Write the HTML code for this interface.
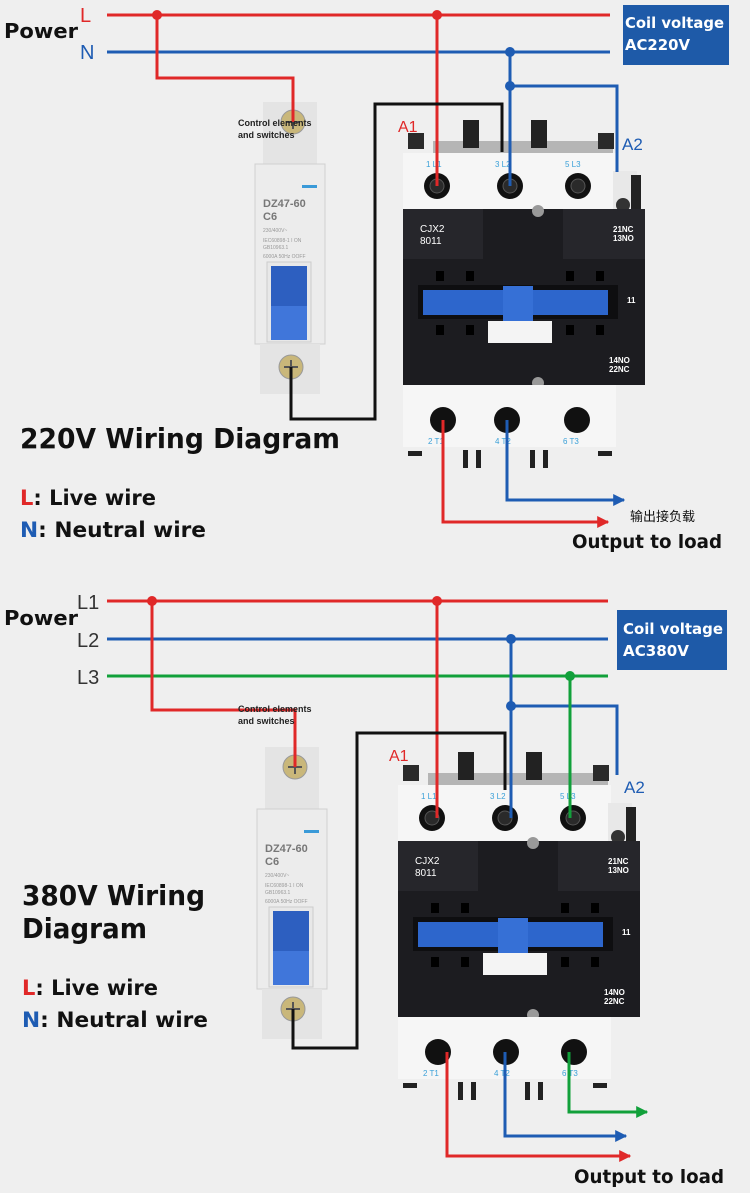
<!DOCTYPE html>
<html><head><meta charset="utf-8"><style>
html,body{margin:0;padding:0;background:#f0f0f0;}
svg{display:block}
text{font-family:"Liberation Sans","Noto Sans CJK SC",sans-serif}
.w{font-family:"DejaVu Sans","Liberation Sans",sans-serif}
</style></head><body>
<svg width="750" height="1201" viewBox="0 0 750 1201" xmlns="http://www.w3.org/2000/svg">
<defs>
<marker id="arR" viewBox="0 0 10 10" refX="9" refY="5" markerWidth="4" markerHeight="4" orient="auto"><path d="M0,0L10,5L0,10z" fill="#e02828"/></marker>
<marker id="arB" viewBox="0 0 10 10" refX="9" refY="5" markerWidth="4" markerHeight="4" orient="auto"><path d="M0,0L10,5L0,10z" fill="#1e5cb3"/></marker>
<marker id="arG" viewBox="0 0 10 10" refX="9" refY="5" markerWidth="4" markerHeight="4" orient="auto"><path d="M0,0L10,5L0,10z" fill="#11a03a"/></marker>
</defs>
<rect width="750" height="1193" fill="#efefef"/>
<rect y="1193" width="750" height="8" fill="#fff"/>

<!-- ===== TOP DIAGRAM ===== -->
<g transform="translate(255,102)">
<rect x="8" y="0" width="54" height="62" fill="#e4e4e4"/>
<circle cx="38" cy="20" r="12" fill="#c9b77a" stroke="#999"/><path d="M31,20h14M38,13v14" stroke="#555" stroke-width="2"/>
<rect x="0" y="62" width="70" height="180" fill="#ececec" stroke="#d0d0d0"/>
<rect x="47" y="83" width="15" height="3" fill="#3a9ad8"/>
<text x="8" y="105" font-size="11" font-weight="bold" fill="#777">DZ47-60</text>
<text x="8" y="118" font-size="11" font-weight="bold" fill="#777">C6</text>
<text x="8" y="130" font-size="5" fill="#999">230/400V~</text>
<text x="8" y="140" font-size="5" fill="#999">IEC60898-1 I ON</text>
<text x="8" y="147" font-size="5" fill="#999">GB10963.1</text>
<text x="8" y="156" font-size="5" fill="#999">6000A 50Hz OOFF</text>
<rect x="12" y="160" width="44" height="80" fill="#e8e8e8" stroke="#ccc"/>
<rect x="16" y="164" width="36" height="40" fill="#2d5fc0"/>
<rect x="16" y="204" width="36" height="34" fill="#4076da"/>
<rect x="5" y="242" width="60" height="50" fill="#e4e4e4"/>
<circle cx="36" cy="265" r="12" fill="#c9b77a" stroke="#999"/><path d="M29,265h14M36,258v14" stroke="#555" stroke-width="2"/>
</g>
<g transform="translate(403,153)">
<rect x="30" y="-12" width="180" height="12" fill="#b5b5b5"/>
<rect x="5" y="-20" width="16" height="16" fill="#2a2a2a"/>
<rect x="195" y="-20" width="16" height="16" fill="#2a2a2a"/>
<rect x="60" y="-33" width="16" height="28" fill="#222"/>
<rect x="128" y="-33" width="16" height="28" fill="#222"/>
<rect x="0" y="0" width="213" height="56" fill="#f6f6f6"/>
<rect x="210" y="18" width="24" height="52" fill="#e8e8e8"/>
<rect x="228" y="22" width="10" height="60" fill="#222"/>
<circle cx="220" cy="52" r="7" fill="#333"/>
<text x="23" y="14" font-size="8" fill="#3aa0d8">1  L1</text>
<text x="92" y="14" font-size="8" fill="#3aa0d8">3  L2</text>
<text x="162" y="14" font-size="8" fill="#3aa0d8">5  L3</text>
<circle cx="34" cy="33" r="13" fill="#111"/><circle cx="34" cy="33" r="7" fill="#2a2a2a" stroke="#555"/>
<circle cx="107" cy="33" r="13" fill="#111"/><circle cx="107" cy="33" r="7" fill="#2a2a2a" stroke="#555"/>
<circle cx="175" cy="33" r="13" fill="#111"/><circle cx="175" cy="33" r="7" fill="#2a2a2a" stroke="#555"/>
<rect x="0" y="56" width="242" height="176" fill="#1c1c20"/>
<rect x="0" y="56" width="80" height="50" fill="#26262b"/>
<rect x="160" y="56" width="82" height="50" fill="#26262b"/>
<circle cx="135" cy="58" r="6" fill="#999"/>
<text x="17" y="79" font-size="10" fill="#fff">CJX2</text>
<text x="17" y="91" font-size="10" fill="#fff">8011</text>
<text x="210" y="79" font-size="8" fill="#fff" font-weight="bold">21NC</text>
<text x="210" y="88" font-size="8" fill="#fff" font-weight="bold">13NO</text>
<rect x="33" y="118" width="8" height="10" fill="#000"/><rect x="63" y="118" width="8" height="10" fill="#000"/>
<rect x="163" y="118" width="8" height="10" fill="#000"/><rect x="193" y="118" width="8" height="10" fill="#000"/>
<rect x="15" y="132" width="200" height="34" fill="#0e0e10"/>
<rect x="20" y="137" width="185" height="25" fill="#2d66cc"/>
<rect x="100" y="133" width="30" height="35" fill="#3670d6"/>
<rect x="33" y="172" width="8" height="10" fill="#000"/><rect x="63" y="172" width="8" height="10" fill="#000"/>
<rect x="163" y="172" width="8" height="10" fill="#000"/><rect x="193" y="172" width="8" height="10" fill="#000"/>
<rect x="85" y="168" width="64" height="22" fill="#f4f4f4"/>
<text x="224" y="150" font-size="8" fill="#fff" font-weight="bold">11</text>
<text x="206" y="210" font-size="8" fill="#fff" font-weight="bold">14NO</text>
<text x="206" y="219" font-size="8" fill="#fff" font-weight="bold">22NC</text>
<circle cx="135" cy="230" r="6" fill="#999"/>
<rect x="0" y="232" width="213" height="62" fill="#f6f6f6"/>
<circle cx="40" cy="267" r="13" fill="#111"/><circle cx="104" cy="267" r="13" fill="#111"/><circle cx="174" cy="267" r="13" fill="#111"/>
<text x="25" y="291" font-size="8" fill="#3aa0d8">2   T1</text>
<text x="92" y="291" font-size="8" fill="#3aa0d8">4   T2</text>
<text x="160" y="291" font-size="8" fill="#3aa0d8">6   T3</text>
<rect x="5" y="298" width="14" height="5" fill="#222"/><rect x="195" y="298" width="14" height="5" fill="#222"/>
<rect x="60" y="297" width="5" height="18" fill="#222"/><rect x="73" y="297" width="5" height="18" fill="#222"/>
<rect x="127" y="297" width="5" height="18" fill="#222"/><rect x="140" y="297" width="5" height="18" fill="#222"/>
</g>

<g fill="none" stroke-width="3">
<path d="M107,15H610" stroke="#e02828"/>
<path d="M107,52H610" stroke="#1e5cb3"/>
<path d="M157,15V78H293V122" stroke="#e02828"/>
<path d="M437,15V186" stroke="#e02828"/>
<path d="M510,52V186" stroke="#1e5cb3"/>
<path d="M510,86H617V172" stroke="#1e5cb3"/>
<path d="M291,367V419H375V104H502V152" stroke="#111"/>
<path d="M443,420V522H608" stroke="#e02828" marker-end="url(#arR)"/>
<path d="M507,420V500H624" stroke="#1e5cb3" marker-end="url(#arB)"/>
</g>
<circle cx="157" cy="15" r="5" fill="#e02828"/><circle cx="437" cy="15" r="5" fill="#e02828"/>
<circle cx="510" cy="52" r="5" fill="#1e5cb3"/><circle cx="510" cy="86" r="5" fill="#1e5cb3"/>

<text class="w" x="4" y="38" font-size="20" font-weight="bold" fill="#111" textLength="74" lengthAdjust="spacingAndGlyphs">Power</text>
<text x="80" y="22" font-size="20" fill="#e02828">L</text>
<text x="80" y="59" font-size="20" fill="#1e5cb3">N</text>
<rect x="623" y="5" width="106" height="60" fill="#1e5aa8"/>
<text class="w" x="625" y="28" font-size="15" font-weight="bold" fill="#fff" textLength="99" lengthAdjust="spacingAndGlyphs">Coil voltage</text>
<text class="w" x="625" y="50" font-size="15" font-weight="bold" fill="#fff" textLength="65" lengthAdjust="spacingAndGlyphs">AC220V</text>
<text x="398" y="132" font-size="16" fill="#e02828">A1</text>
<text x="622" y="150" font-size="17" fill="#1e5cb3">A2</text>
<text x="238" y="126" font-size="9" font-weight="bold" fill="#222">Control elements</text>
<text x="238" y="138" font-size="9" font-weight="bold" fill="#222">and switches</text>
<text class="w" x="20" y="448" font-size="28" font-weight="bold" fill="#111" textLength="320" lengthAdjust="spacingAndGlyphs">220V Wiring Diagram</text>
<text class="w" x="20" y="505" font-size="21" font-weight="bold" fill="#111" textLength="136" lengthAdjust="spacingAndGlyphs"><tspan fill="#e02828">L</tspan>: Live wire</text>
<text class="w" x="20" y="537" font-size="21" font-weight="bold" fill="#111" textLength="186" lengthAdjust="spacingAndGlyphs"><tspan fill="#1e5cb3">N</tspan>: Neutral wire</text>
<text x="630" y="521" font-size="13" fill="#111">输出接负载</text>
<text class="w" x="572" y="548" font-size="19" font-weight="bold" fill="#111" textLength="150" lengthAdjust="spacingAndGlyphs">Output to load</text>

<!-- ===== BOTTOM DIAGRAM ===== -->
<g transform="translate(257,747)">
<rect x="8" y="0" width="54" height="62" fill="#e4e4e4"/>
<circle cx="38" cy="20" r="12" fill="#c9b77a" stroke="#999"/><path d="M31,20h14M38,13v14" stroke="#555" stroke-width="2"/>
<rect x="0" y="62" width="70" height="180" fill="#ececec" stroke="#d0d0d0"/>
<rect x="47" y="83" width="15" height="3" fill="#3a9ad8"/>
<text x="8" y="105" font-size="11" font-weight="bold" fill="#777">DZ47-60</text>
<text x="8" y="118" font-size="11" font-weight="bold" fill="#777">C6</text>
<text x="8" y="130" font-size="5" fill="#999">230/400V~</text>
<text x="8" y="140" font-size="5" fill="#999">IEC60898-1 I ON</text>
<text x="8" y="147" font-size="5" fill="#999">GB10963.1</text>
<text x="8" y="156" font-size="5" fill="#999">6000A 50Hz OOFF</text>
<rect x="12" y="160" width="44" height="80" fill="#e8e8e8" stroke="#ccc"/>
<rect x="16" y="164" width="36" height="40" fill="#2d5fc0"/>
<rect x="16" y="204" width="36" height="34" fill="#4076da"/>
<rect x="5" y="242" width="60" height="50" fill="#e4e4e4"/>
<circle cx="36" cy="262" r="12" fill="#c9b77a" stroke="#999"/><path d="M29,262h14M36,255v14" stroke="#555" stroke-width="2"/>
</g>
<g transform="translate(398,785)">
<rect x="30" y="-12" width="180" height="12" fill="#b5b5b5"/>
<rect x="5" y="-20" width="16" height="16" fill="#2a2a2a"/>
<rect x="195" y="-20" width="16" height="16" fill="#2a2a2a"/>
<rect x="60" y="-33" width="16" height="28" fill="#222"/>
<rect x="128" y="-33" width="16" height="28" fill="#222"/>
<rect x="0" y="0" width="213" height="56" fill="#f6f6f6"/>
<rect x="210" y="18" width="24" height="52" fill="#e8e8e8"/>
<rect x="228" y="22" width="10" height="60" fill="#222"/>
<circle cx="220" cy="52" r="7" fill="#333"/>
<text x="23" y="14" font-size="8" fill="#3aa0d8">1  L1</text>
<text x="92" y="14" font-size="8" fill="#3aa0d8">3  L2</text>
<text x="162" y="14" font-size="8" fill="#3aa0d8">5  L3</text>
<circle cx="34" cy="33" r="13" fill="#111"/><circle cx="34" cy="33" r="7" fill="#2a2a2a" stroke="#555"/>
<circle cx="107" cy="33" r="13" fill="#111"/><circle cx="107" cy="33" r="7" fill="#2a2a2a" stroke="#555"/>
<circle cx="175" cy="33" r="13" fill="#111"/><circle cx="175" cy="33" r="7" fill="#2a2a2a" stroke="#555"/>
<rect x="0" y="56" width="242" height="176" fill="#1c1c20"/>
<rect x="0" y="56" width="80" height="50" fill="#26262b"/>
<rect x="160" y="56" width="82" height="50" fill="#26262b"/>
<circle cx="135" cy="58" r="6" fill="#999"/>
<text x="17" y="79" font-size="10" fill="#fff">CJX2</text>
<text x="17" y="91" font-size="10" fill="#fff">8011</text>
<text x="210" y="79" font-size="8" fill="#fff" font-weight="bold">21NC</text>
<text x="210" y="88" font-size="8" fill="#fff" font-weight="bold">13NO</text>
<rect x="33" y="118" width="8" height="10" fill="#000"/><rect x="63" y="118" width="8" height="10" fill="#000"/>
<rect x="163" y="118" width="8" height="10" fill="#000"/><rect x="193" y="118" width="8" height="10" fill="#000"/>
<rect x="15" y="132" width="200" height="34" fill="#0e0e10"/>
<rect x="20" y="137" width="185" height="25" fill="#2d66cc"/>
<rect x="100" y="133" width="30" height="35" fill="#3670d6"/>
<rect x="33" y="172" width="8" height="10" fill="#000"/><rect x="63" y="172" width="8" height="10" fill="#000"/>
<rect x="163" y="172" width="8" height="10" fill="#000"/><rect x="193" y="172" width="8" height="10" fill="#000"/>
<rect x="85" y="168" width="64" height="22" fill="#f4f4f4"/>
<text x="224" y="150" font-size="8" fill="#fff" font-weight="bold">11</text>
<text x="206" y="210" font-size="8" fill="#fff" font-weight="bold">14NO</text>
<text x="206" y="219" font-size="8" fill="#fff" font-weight="bold">22NC</text>
<circle cx="135" cy="230" r="6" fill="#999"/>
<rect x="0" y="232" width="213" height="62" fill="#f6f6f6"/>
<circle cx="40" cy="267" r="13" fill="#111"/><circle cx="108" cy="267" r="13" fill="#111"/><circle cx="176" cy="267" r="13" fill="#111"/>
<text x="25" y="291" font-size="8" fill="#3aa0d8">2   T1</text>
<text x="96" y="291" font-size="8" fill="#3aa0d8">4   T2</text>
<text x="164" y="291" font-size="8" fill="#3aa0d8">6   T3</text>
<rect x="5" y="298" width="14" height="5" fill="#222"/><rect x="195" y="298" width="14" height="5" fill="#222"/>
<rect x="60" y="297" width="5" height="18" fill="#222"/><rect x="73" y="297" width="5" height="18" fill="#222"/>
<rect x="127" y="297" width="5" height="18" fill="#222"/><rect x="140" y="297" width="5" height="18" fill="#222"/>
</g>

<g fill="none" stroke-width="3">
<path d="M107,601H608" stroke="#e02828"/>
<path d="M107,639H608" stroke="#1e5cb3"/>
<path d="M107,676H608" stroke="#11a03a"/>
<path d="M152,601V710H295V767" stroke="#e02828"/>
<path d="M437,601V818" stroke="#e02828"/>
<path d="M511,639V818" stroke="#1e5cb3"/>
<path d="M511,706H617V775" stroke="#1e5cb3"/>
<path d="M570,676V818" stroke="#11a03a"/>
<path d="M293,1009V1048H357V733H505V790" stroke="#111"/>
<path d="M447,1052V1156H630" stroke="#e02828" marker-end="url(#arR)"/>
<path d="M505,1052V1136H626" stroke="#1e5cb3" marker-end="url(#arB)"/>
<path d="M569,1052V1112H647" stroke="#11a03a" marker-end="url(#arG)"/>
</g>
<circle cx="152" cy="601" r="5" fill="#e02828"/><circle cx="437" cy="601" r="5" fill="#e02828"/>
<circle cx="511" cy="639" r="5" fill="#1e5cb3"/><circle cx="511" cy="706" r="5" fill="#1e5cb3"/>
<circle cx="570" cy="676" r="5" fill="#11a03a"/>

<text class="w" x="4" y="625" font-size="20" font-weight="bold" fill="#111" textLength="74" lengthAdjust="spacingAndGlyphs">Power</text>
<text x="77" y="609" font-size="20" fill="#333">L1</text>
<text x="77" y="647" font-size="20" fill="#333">L2</text>
<text x="77" y="684" font-size="20" fill="#333">L3</text>
<rect x="617" y="610" width="110" height="60" fill="#1e5aa8"/>
<text class="w" x="623" y="634" font-size="15" font-weight="bold" fill="#fff" textLength="100" lengthAdjust="spacingAndGlyphs">Coil voltage</text>
<text class="w" x="623" y="656" font-size="15" font-weight="bold" fill="#fff" textLength="66" lengthAdjust="spacingAndGlyphs">AC380V</text>
<text x="389" y="761" font-size="16" fill="#e02828">A1</text>
<text x="624" y="793" font-size="17" fill="#1e5cb3">A2</text>
<text x="238" y="712" font-size="9" font-weight="bold" fill="#222">Control elements</text>
<text x="238" y="724" font-size="9" font-weight="bold" fill="#222">and switches</text>
<text class="w" x="22" y="905" font-size="28" font-weight="bold" fill="#111" textLength="183" lengthAdjust="spacingAndGlyphs">380V Wiring</text>
<text class="w" x="22" y="938" font-size="28" font-weight="bold" fill="#111" textLength="125" lengthAdjust="spacingAndGlyphs">Diagram</text>
<text class="w" x="22" y="995" font-size="21" font-weight="bold" fill="#111" textLength="136" lengthAdjust="spacingAndGlyphs"><tspan fill="#e02828">L</tspan>: Live wire</text>
<text class="w" x="22" y="1027" font-size="21" font-weight="bold" fill="#111" textLength="186" lengthAdjust="spacingAndGlyphs"><tspan fill="#1e5cb3">N</tspan>: Neutral wire</text>
<text class="w" x="574" y="1183" font-size="19" font-weight="bold" fill="#111" textLength="150" lengthAdjust="spacingAndGlyphs">Output to load</text>
</svg>
</body></html>
